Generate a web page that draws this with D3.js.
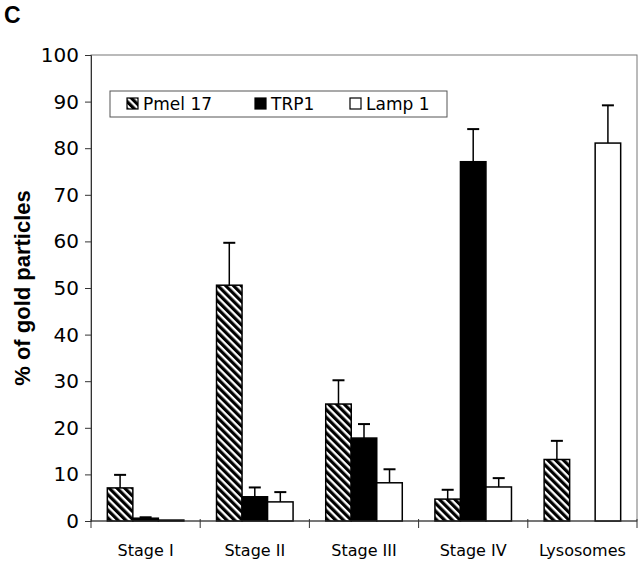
<!DOCTYPE html>
<html><head><meta charset="utf-8">
<script src="https://cdn.jsdelivr.net/npm/d3@7"></script>
<style>body{margin:0;background:#fff}svg{display:block}</style>
</head><body>
<script>
const categories = ["Stage I","Stage II","Stage III","Stage IV","Lysosomes"];
const seriesNames = ["Pmel 17","TRP1","Lamp 1"];
const pmel = [7.1, 50.6, 25.1, 4.7, 13.2];
const pmelErr = [2.8, 9.1, 5.1, 2.0, 4.0];
const trp1 = [0.6, 5.2, 17.8, 77.1, 0];
const trp1Err = [0.2, 2.0, 3.0, 7.0, 0];
const lamp1 = [0.2, 4.1, 8.2, 7.3, 81.1];
const lamp1Err = [0, 2.1, 2.9, 1.9, 8.1];
const yTicks = [0,10,20,30,40,50,60,70,80,90,100];

const W = 640, H = 563;
const m = {left: 91, right: 3, top: 55, bottom: 42};
const svg = d3.select("body").append("svg").attr("width", W).attr("height", H);

const defs = svg.append("defs");
const pat = defs.append("pattern").attr("id","hatch").attr("patternUnits","userSpaceOnUse")
  .attr("width",5.5).attr("height",5.5).attr("patternTransform","rotate(-45)");
pat.append("rect").attr("width",5.5).attr("height",5.5).attr("fill","#fff");
pat.append("rect").attr("width",3.2).attr("height",5.5).attr("fill","#000");

const fills = ["url(#hatch)","#000","#fff"];
const data = [pmel, trp1, lamp1];
const errs = [pmelErr, trp1Err, lamp1Err];

const x = d3.scaleBand().domain(categories).range([m.left, W - m.right]).padding(0);
const xi = d3.scaleBand().domain(seriesNames).range([0, x.bandwidth()]).paddingInner(0).paddingOuter(0.64);
const y = d3.scaleLinear().domain([0,100]).range([H - m.bottom, m.top]);

// frame
svg.append("rect").attr("x", m.left).attr("y", m.top).attr("width", W - m.right - m.left)
  .attr("height", H - m.bottom - m.top).attr("fill","none").attr("stroke","#777").attr("stroke-width",1);

// y axis
const ya = svg.append("g").attr("transform",`translate(${m.left},0)`)
  .call(d3.axisLeft(y).tickValues(yTicks).tickSize(6).tickPadding(6));
ya.select(".domain").attr("stroke","#333");
ya.selectAll(".tick line").attr("stroke","#333");
ya.selectAll("text").attr("font-family","DejaVu Sans, sans-serif").attr("font-size",20).attr("fill","#000");

// bars
const rows = [];
categories.forEach((c,i) => seriesNames.forEach((s,j) => {
  if (data[j][i] > 0) rows.push({c, s, j, v: data[j][i], e: errs[j][i]});
}));
const g = svg.append("g");
g.selectAll("rect.bar").data(rows).join("rect").attr("class","bar")
  .attr("x", d => x(d.c) + xi(d.s)).attr("width", xi.bandwidth())
  .attr("y", d => y(d.v)).attr("height", d => y(0) - y(d.v))
  .attr("fill", d => fills[d.j]).attr("stroke","#000").attr("stroke-width",1.5);

// error bars (upper only)
const eb = rows.filter(d => d.e > 0);
g.selectAll("line.ev").data(eb).join("line").attr("class","ev")
  .attr("x1", d => x(d.c) + xi(d.s) + xi.bandwidth()/2).attr("x2", d => x(d.c) + xi(d.s) + xi.bandwidth()/2)
  .attr("y1", d => y(d.v)).attr("y2", d => y(d.v + d.e)).attr("stroke","#000").attr("stroke-width",1.5);
g.selectAll("line.ec").data(eb).join("line").attr("class","ec")
  .attr("x1", d => x(d.c) + xi(d.s) + xi.bandwidth()/2 - 6).attr("x2", d => x(d.c) + xi(d.s) + xi.bandwidth()/2 + 6)
  .attr("y1", d => y(d.v + d.e)).attr("y2", d => y(d.v + d.e)).attr("stroke","#000").attr("stroke-width",2);

// x axis
const xa = svg.append("g").attr("transform",`translate(0,${H - m.bottom})`);
xa.append("line").attr("x1", m.left).attr("x2", W - m.right).attr("stroke","#333");
const bounds = categories.map(c => x(c)).concat([x(categories[categories.length-1]) + x.bandwidth()]);
xa.selectAll("line.t").data(bounds).join("line").attr("class","t")
  .attr("x1", d => d).attr("x2", d => d).attr("y1", -2).attr("y2", 7).attr("stroke","#333");
xa.selectAll("text").data(categories).join("text")
  .attr("x", d => x(d) + x.bandwidth()/2).attr("y", 35).attr("text-anchor","middle")
  .attr("font-family","DejaVu Sans, sans-serif").attr("font-size",16).text(d => d);

// y label
svg.append("text").attr("transform",`translate(30,${(y(0)+y(100))/2}) rotate(-90)`)
  .attr("text-anchor","middle").attr("font-family","Liberation Sans, Arial, sans-serif")
  .attr("font-weight","bold").attr("font-size",22).text("% of gold particles");

// panel letter
svg.append("text").attr("x",4).attr("y",23).attr("font-family","Liberation Sans, Arial, sans-serif")
  .attr("font-weight","bold").attr("font-size",23).text("C");

// legend
const lg = svg.append("g");
lg.append("rect").attr("x",110).attr("y",91).attr("width",337).attr("height",26)
  .attr("fill","#fff").attr("stroke","#555").attr("stroke-width",1);
const lx = [127, 255, 350];
seriesNames.forEach((s,j) => {
  lg.append("rect").attr("x", lx[j]).attr("y", 98).attr("width", 11).attr("height", 11)
    .attr("fill", fills[j]).attr("stroke","#000").attr("stroke-width",1.2);
  lg.append("text").attr("x", lx[j] + 16).attr("y", 110).attr("font-family","DejaVu Sans, sans-serif")
    .attr("font-size",17).text(s);
});
</script>
</body></html>
